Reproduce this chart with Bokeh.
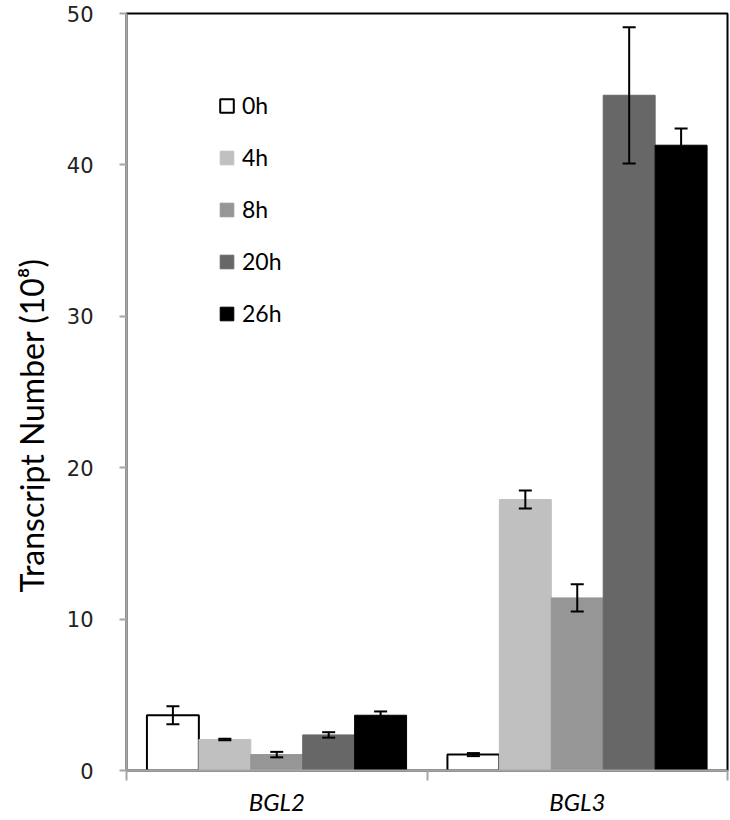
from bokeh.plotting import figure
from bokeh.models import (ColumnDataSource, Range1d, FixedTicker, LinearAxis, Whisker,
                          TeeHead, Legend, LegendItem, Title)
from bokeh.embed import file_html
from bokeh.resources import INLINE

genes = ["BGL2", "BGL3"]
times = ["0h", "4h", "8h", "20h", "26h"]
# values per time point: [BGL2, BGL3]
mean_0h = [3.65, 1.05]
mean_4h = [2.05, 17.9]
mean_8h = [1.05, 11.4]
mean_20h = [2.35, 44.6]
mean_26h = [3.65, 41.3]
err_0h = [0.6, 0.1]
err_4h = [0.05, 0.6]
err_8h = [0.18, 0.9]
err_20h = [0.18, 4.5]
err_26h = [0.25, 1.1]
y_ticks = [0, 10, 20, 30, 40, 50]
y_title = "Transcript Number (10⁸)"

means = [mean_0h, mean_4h, mean_8h, mean_20h, mean_26h]
errs = [err_0h, err_4h, err_8h, err_20h, err_26h]
fills = ["white", "#C0C0C0", "#969696", "#676767", "black"]
lines = ["black", "#C0C0C0", "#969696", "#676767", "black"]
bar_w = 0.1728

p = figure(width=730, height=818, output_backend="svg", toolbar_location=None,
           x_range=Range1d(0, 2), y_range=Range1d(0, 50),
           min_border_left=125, min_border_top=13, min_border_right=3, min_border_bottom=47,
           x_axis_location=None, y_axis_location=None)
p.xgrid.visible = False
p.ygrid.visible = False
p.outline_line_color = "black"
p.outline_line_width = 2

items = []
for ti, t in enumerate(times):
    xs = [gi + 0.5 + (ti - 2) * bar_w for gi in range(len(genes))]
    src = ColumnDataSource(dict(x=xs, top=means[ti],
                                upper=[m + e for m, e in zip(means[ti], errs[ti])],
                                lower=[m - e for m, e in zip(means[ti], errs[ti])]))
    r = p.vbar(x="x", top="top", bottom=0, width=bar_w, source=src,
               fill_color=fills[ti], line_color=lines[ti], line_width=2 if ti == 0 else 1)
    items.append(LegendItem(label=t, renderers=[r]))
    w = Whisker(base="x", upper="upper", lower="lower", source=src, level="overlay",
                line_color="black", line_width=2,
                upper_head=TeeHead(size=13, line_width=2, line_color="black"),
                lower_head=TeeHead(size=13, line_width=2, line_color="black"))
    p.add_layout(w)

# y axis
yax = LinearAxis(ticker=FixedTicker(ticks=y_ticks))
yax.axis_line_color = "#A6A6A6"
yax.axis_line_width = 2
yax.major_tick_line_color = "#A6A6A6"
yax.major_tick_line_width = 2
yax.major_tick_in = 0
yax.major_tick_out = 7
yax.minor_tick_line_color = None
yax.major_label_text_font = "DejaVu Sans"
yax.major_label_text_font_size = "21px"
yax.major_label_text_color = "#222222"
yax.major_label_standoff = 26
p.add_layout(yax, "left")

ytitle = Title(text=y_title, align="left", offset=178, vertical_align="top", standoff=22,
               text_font="Lato", text_font_size="32px", text_font_style="normal",
               text_color="black")
p.add_layout(ytitle, "left")

# bottom axis: labels centred on genes, boundary ticks between groups
xax = LinearAxis(ticker=FixedTicker(ticks=[0.5, 1.5], minor_ticks=[0, 1, 2]))
xax.major_label_overrides = {0.5: genes[0], 1.5: genes[1]}
xax.axis_line_color = "#A6A6A6"
xax.axis_line_width = 2
xax.major_tick_line_color = None
xax.major_tick_in = 0
xax.major_tick_out = 0
xax.minor_tick_line_color = "#A6A6A6"
xax.minor_tick_line_width = 2
xax.minor_tick_in = 0
xax.minor_tick_out = 10
xax.major_label_text_font = "Lato"
xax.major_label_text_font_style = "italic"
xax.major_label_text_font_size = "24px"
xax.major_label_text_color = "black"
xax.major_label_standoff = 6
p.add_layout(xax, "below")

legend = Legend(items=items, location=(92, 443))
legend.background_fill_alpha = 0
legend.border_line_color = None
legend.padding = 0
legend.margin = 0
legend.glyph_width = 17
legend.glyph_height = 17
legend.label_standoff = 7
legend.label_text_font = "Lato"
legend.label_text_font_size = "23px"
legend.label_text_color = "black"
legend.spacing = 24
p.add_layout(legend)

open("out.html", "w").write(file_html(p, INLINE))
